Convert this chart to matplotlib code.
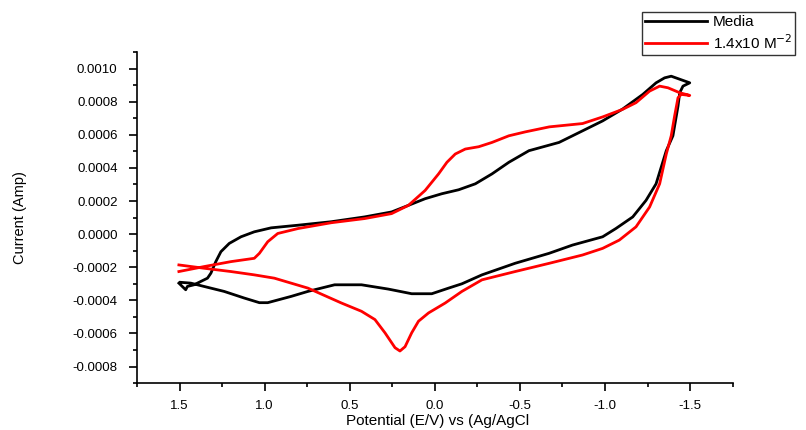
import numpy as np
import matplotlib
matplotlib.use("Agg")
import matplotlib.pyplot as plt
from matplotlib.ticker import MultipleLocator, FormatStrFormatter

plt.rcParams['font.family'] = ['Liberation Sans', 'DejaVu Sans']

# Media (black) cyclic voltammogram
media_potential = [1.504, 1.464, 1.454, 1.415, 1.336, 1.316, 1.287, 1.257, 1.208, 1.139,
                   1.061, 0.962, 0.803, 0.608, 0.413, 0.254, 0.155, 0.057, -0.041, -0.140,
                   -0.238, -0.336, -0.435, -0.553, -0.730, -0.868, -0.986, -1.104, -1.222, -1.300,
                   -1.350, -1.389, -1.498, -1.458, -1.439, -1.429, -1.399, -1.360, -1.300, -1.241,
                   -1.163, -1.064, -0.986, -0.809, -0.671, -0.472, -0.277, -0.159, -0.081, 0.018,
                   0.136, 0.273, 0.431, 0.589, 0.746, 0.844, 0.982, 1.031, 1.120, 1.238,
                   1.356, 1.434, 1.494]
media_current = [-0.000296, -0.000336, -0.000316, -0.000306, -0.000266, -0.000236, -0.000166, -0.000106,
                 -0.000056, -0.000016, 0.000014, 0.000038, 0.000054, 0.000075, 0.000104, 0.000134,
                 0.000174, 0.000214, 0.000244, 0.000268, 0.000304, 0.000364, 0.000434, 0.000504,
                 0.000554, 0.000624, 0.000684, 0.000756, 0.000844, 0.000914, 0.000944, 0.000954,
                 0.000914, 0.000894, 0.000854, 0.000774, 0.000594, 0.000504, 0.000304, 0.000204,
                 0.000104, 0.000034, -0.000016, -0.000066, -0.000116, -0.000176, -0.000246, -0.000300,
                 -0.000326, -0.000360, -0.000360, -0.000332, -0.000306, -0.000306, -0.000346, -0.000376,
                 -0.000414, -0.000414, -0.000386, -0.000346, -0.000316, -0.000296, -0.000291]

# 1.4x10^-2 M sample (red)
sample_potential = [1.504, 1.356, 1.198, 1.061, 1.031, 0.982, 0.923, 0.803, 0.608, 0.413,
                    0.254, 0.155, 0.057, -0.022, -0.071, -0.120, -0.179, -0.258, -0.336, -0.435,
                    -0.533, -0.673, -0.868, -0.986, -1.104, -1.182, -1.262, -1.321, -1.370, -1.439,
                    -1.498, -1.448, -1.429, -1.409, -1.389, -1.360, -1.321, -1.262, -1.182, -1.084,
                    -0.986, -0.868, -0.673, -0.472, -0.277, -0.159, -0.061, 0.037, 0.096, 0.136,
                    0.175, 0.205, 0.234, 0.293, 0.352, 0.431, 0.549, 0.746, 0.943, 1.061,
                    1.198, 1.356, 1.504]
sample_current = [-0.000226, -0.000196, -0.000166, -0.000146, -0.000116, -0.000046, 0.000004, 0.000034,
                  0.000069, 0.000094, 0.000124, 0.000174, 0.000264, 0.000364, 0.000434, 0.000484,
                  0.000514, 0.000528, 0.000554, 0.000594, 0.000618, 0.000648, 0.000668, 0.000708,
                  0.000754, 0.000794, 0.000864, 0.000894, 0.000884, 0.000854, 0.000838, 0.000844,
                  0.000824, 0.000714, 0.000594, 0.000484, 0.000304, 0.000164, 0.000044, -0.000036,
                  -0.000086, -0.000126, -0.000176, -0.000226, -0.000276, -0.000346, -0.000416, -0.000476,
                  -0.000526, -0.000596, -0.000680, -0.000706, -0.000686, -0.000596, -0.000516, -0.000466,
                  -0.000416, -0.000326, -0.000266, -0.000246, -0.000226, -0.000206, -0.000186]

labels = ['Media', '1.4x10 M$^{-2}$']

fig = plt.figure(figsize=(8.06, 4.30), dpi=100)
ax = fig.add_axes([0.170, 0.109, 0.739, 0.770])

ax.plot(media_potential, media_current, color='black', lw=2.0,
        solid_joinstyle='round', label=labels[0])
ax.plot(sample_potential, sample_current, color='#ff0000', lw=2.0,
        solid_joinstyle='round', label=labels[1])

ax.set_xlim(1.75, -1.75)
ax.set_ylim(-0.0009, 0.0011)

ax.xaxis.set_major_locator(MultipleLocator(0.5))
ax.xaxis.set_minor_locator(MultipleLocator(0.25))
ax.yaxis.set_major_locator(MultipleLocator(0.0002))
ax.yaxis.set_minor_locator(MultipleLocator(0.0001))
ax.xaxis.set_major_formatter(FormatStrFormatter('%.1f'))
ax.yaxis.set_major_formatter(FormatStrFormatter('%.4f'))

ax.spines['top'].set_visible(False)
ax.spines['right'].set_visible(False)
for s in ('left', 'bottom'):
    ax.spines[s].set_linewidth(1.2)
ax.tick_params(which='major', direction='out', length=6, width=1.2, labelsize=9.5)
ax.tick_params(which='minor', direction='out', length=3, width=1.2)
ax.tick_params(axis='x', pad=6)
ax.tick_params(axis='y', pad=8)

ax.set_xlabel('Potential (E/V) vs (Ag/AgCl', fontsize=11)
ax.xaxis.set_label_coords(0.505, -0.094)
ax.set_ylabel('Current (Amp)', fontsize=10.5)
ax.yaxis.set_label_coords(-0.184, 0.5)

leg = fig.legend(loc='upper left', bbox_to_anchor=(0.797, 0.972), fontsize=11,
                 handlelength=4.0, handletextpad=0.4, labelspacing=0.25,
                 borderpad=0.2, borderaxespad=0, frameon=True, fancybox=False)
leg.get_frame().set_edgecolor('black')
leg.get_frame().set_linewidth(1.0)

fig.savefig('out.png', dpi=100)
